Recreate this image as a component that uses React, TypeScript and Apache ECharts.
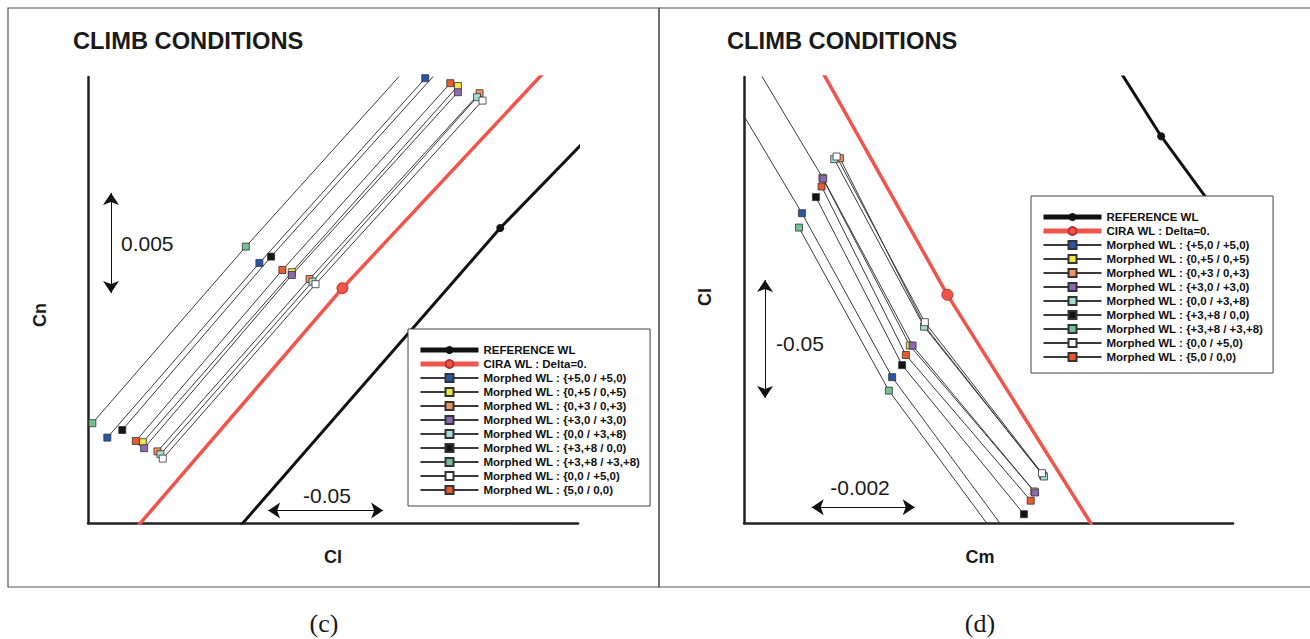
import React, { useEffect, useRef } from "react";
import * as echarts from "echarts";

// ---------- names (legend order) ----------
const SERIES_NAMES = [
  "REFERENCE WL",
  "CIRA WL : Delta=0.",
  "Morphed WL : {+5,0 / +5,0)",
  "Morphed WL : {0,+5 / 0,+5)",
  "Morphed WL : {0,+3 / 0,+3)",
  "Morphed WL : {+3,0 / +3,0)",
  "Morphed WL : {0,0 / +3,+8)",
  "Morphed WL : {+3,+8 / 0,0)",
  "Morphed WL : {+3,+8 / +3,+8)",
  "Morphed WL : {0,0 / +5,0)",
  "Morphed WL : {5,0 / 0,0)",
];

// ---------- panel (c): x = Cl, y = Cn ----------
const C_X_RANGE = [0, 0.213];
const C_Y_RANGE = [0, 0.0223];
const refC = [[0.0609, -0.00085], [0.1792, 0.01475], [0.2227, 0.0199]];
const ciraC = [[0.0161, -0.0009], [0.1106, 0.01174], [0.2032, 0.02315]];
const blueC = [[0.0084, 0.00427], [0.0745, 0.013], [0.1466, 0.02224]];
const yellowC = [[0.0238, 0.00404], [0.0886, 0.01254], [0.1608, 0.02185]];
const orangeC = [[0.0302, 0.00358], [0.0963, 0.0122], [0.1702, 0.02149]];
const purpleC = [[0.0244, 0.00374], [0.0886, 0.0124], [0.1608, 0.02154]];
const cyanC = [[0.0315, 0.00344], [0.0976, 0.01207], [0.1691, 0.02129]];
const blackC = [[0.0149, 0.00465], [0.0796, 0.01332], [0.1518, 0.02255]];
const greenC = [[0.0019, 0.00499], [0.0686, 0.01382], [0.1409, 0.02305]];
const whiteC = [[0.0325, 0.00322], [0.0989, 0.01194], [0.1715, 0.02112]];
const redOrangeC = [[0.0208, 0.0041], [0.0845, 0.01265], [0.1575, 0.02199]];
// scale bars (c)
const C_SCALE_CN = [[0.01, 0.0115], [0.01, 0.0165]]; // 0.005 in Cn
const C_SCALE_CL = [[0.0783, 0.00062], [0.1283, 0.00062]]; // 0.05 in Cl

// ---------- panel (d): x = Cm, y = Cl ----------
const D_X_RANGE = [0, 0.009496];
const D_Y_RANGE = [0, 0.189];
const refD = [[0.0071, 0.1984], [0.0081, 0.1639], [0.00943, 0.1242]];
const ciraD = [[0.00138, 0.1967], [0.00395, 0.0967], [0.00695, -0.0076]];
const blueD = [[-0.000175, 0.1789], [0.001125, 0.1313], [0.002877, 0.0618], [0.005354, -0.01145]];
const yellowD = [[0.001523, 0.1463], [0.00322, 0.0752], [0.005636, 0.01336]];
const orangeD = [[0.001862, 0.1546], [0.003508, 0.0835], [0.00581, 0.0201]];
const purpleD = [[0.000213, 0.1942], [0.001538, 0.1459], [0.003273, 0.0752], [0.005653, 0.01293]];
const cyanD = [[0.001752, 0.1542], [0.003498, 0.0832], [0.005824, 0.0197]];
const blackD = [[0.001397, 0.1381], [0.003071, 0.0669], [0.005436, 0.00373]];
const greenD = [[0.001067, 0.1252], [0.002813, 0.0561], [0.005199, -0.01442]];
const whiteD = [[0.001798, 0.1553], [0.003511, 0.0851], [0.005787, 0.0211]];
const redOrangeD = [[0.001507, 0.1426], [0.003143, 0.0712], [0.005568, 0.00946]];
// scale bars (d)
const D_SCALE_CL = [[0.000408, 0.053], [0.000408, 0.103]]; // 0.05 in Cl
const D_SCALE_CM = [[0.001315, 0.00665], [0.003315, 0.00665]]; // 0.002 in Cm

const MORPHED_C = [blueC, yellowC, orangeC, purpleC, cyanC, blackC, greenC, whiteC, redOrangeC];
const MORPHED_D = [blueD, yellowD, orangeD, purpleD, cyanD, blackD, greenD, whiteD, redOrangeD];
const MARKER_INDEX = 1; // only the middle point of the REFERENCE / CIRA curves carries a marker

// ---------- styles ----------
const FILLS = ["#2a56a8", "#f3e64c", "#f39060", "#8f68b4", "#a4dcd8", "#141414", "#74c291", "#ffffff", "#ea5a2e"];
const RED = "#f0554c";
const SANS = '"Liberation Sans", Arial, Helvetica, sans-serif';
const SERIF = '"Liberation Serif", "Times New Roman", serif';

function axisPair(g: number, xr: number[], yr: number[]) {
  const common = {
    gridIndex: g,
    type: "value",
    axisTick: { show: false },
    axisLabel: { show: false },
    splitLine: { show: false },
    axisLine: { show: true, onZero: false, lineStyle: { color: "#222", width: 2.5 } },
  };
  return {
    x: { ...common, min: xr[0], max: xr[1] },
    y: { ...common, min: yr[0], max: yr[1] },
  };
}

function buildSeries(g: number, refData: number[][], ciraData: number[][], morphed: number[][][], scaleA: number[][], scaleB: number[][]) {
  const markOnly = (pts: number[][]) =>
    pts.map((p, i) => (i === MARKER_INDEX ? p : { value: p, symbol: "none" }));
  const list: any[] = [];
  list.push({
    type: "line",
    name: SERIES_NAMES[0],
    xAxisIndex: g,
    yAxisIndex: g,
    data: markOnly(refData),
    symbol: "circle",
    symbolSize: 8,
    lineStyle: { color: "#111", width: 3 },
    itemStyle: { color: "#111" },
    z: 3,
    markLine: {
      silent: true,
      symbol: ["arrow", "arrow"],
      symbolSize: 12,
      lineStyle: { color: "#111", width: 1, type: "solid" },
      label: { show: false },
      emphasis: { disabled: true },
      data: [
        [{ coord: scaleA[0] }, { coord: scaleA[1] }],
        [{ coord: scaleB[0] }, { coord: scaleB[1] }],
      ],
    },
  });
  list.push({
    type: "line",
    name: SERIES_NAMES[1],
    xAxisIndex: g,
    yAxisIndex: g,
    data: markOnly(ciraData),
    symbol: "circle",
    symbolSize: 11,
    lineStyle: { color: RED, width: 3.5 },
    itemStyle: { color: RED, borderColor: "#b8322c", borderWidth: 1 },
    z: 3,
  });
  morphed.forEach((pts, i) => {
    list.push({
      type: "line",
      name: SERIES_NAMES[i + 2],
      xAxisIndex: g,
      yAxisIndex: g,
      data: pts,
      symbol: "rect",
      symbolSize: 7,
      lineStyle: { color: "#3a3a3a", width: 1 },
      itemStyle: { color: FILLS[i], borderColor: "#333", borderWidth: 0.8 },
      z: 4,
    });
  });
  return list;
}

export default function App() {
  const ref = useRef<HTMLDivElement>(null);
  useEffect(() => {
    const chart = echarts.init(ref.current!, null, { renderer: "svg" });
    const ac = axisPair(0, C_X_RANGE, C_Y_RANGE);
    const ad = axisPair(1, D_X_RANGE, D_Y_RANGE);

    const legendData = SERIES_NAMES.map((n, i) =>
      i < 2 ? { name: n, lineStyle: { width: 5 } } : { name: n }
    );
    const legendCommon = {
      orient: "vertical",
      itemWidth: 58,
      itemHeight: 10,
      itemGap: 2,
      padding: [15, 10, 10, 10],
      borderColor: "#444",
      borderWidth: 1,
      backgroundColor: "#fff",
      selectedMode: false,
      textStyle: { fontFamily: SANS, fontWeight: "bold", fontSize: 11.5, lineHeight: 12, color: "#111" },
      data: legendData,
    };

    const txt = (x: number, y: number, text: string, font: string, align = "left", rotation = 0) => ({
      type: "text",
      x,
      y,
      rotation,
      silent: true,
      style: {
        text,
        font,
        fill: "#1a1a1a",
        textAlign: align,
        textVerticalAlign: "middle",
        align,
        verticalAlign: "middle",
      },
    });

    const option: any = {
      animation: false,
      backgroundColor: "#fff",
      grid: [
        { left: 88, top: 77, width: 490, height: 446 },
        { left: 744, top: 77, width: 489, height: 446 },
      ],
      xAxis: [ac.x, ad.x],
      yAxis: [ac.y, ad.y],
      legend: [
        { ...legendCommon, left: 408, top: 329 },
        { ...legendCommon, left: 1031, top: 196 },
      ],
      series: [
        ...buildSeries(0, refC, ciraC, MORPHED_C, C_SCALE_CN, C_SCALE_CL),
        ...buildSeries(1, refD, ciraD, MORPHED_D, D_SCALE_CL, D_SCALE_CM),
      ],
      graphic: [
        { type: "rect", silent: true, shape: { x: 8, y: 8, width: 651, height: 579 }, style: { fill: "none", stroke: "#555", lineWidth: 1.2 } },
        { type: "rect", silent: true, shape: { x: 659, y: 8, width: 660, height: 579 }, style: { fill: "none", stroke: "#555", lineWidth: 1.2 } },
        txt(73, 41, "CLIMB CONDITIONS", `bold 23.7px ${SANS}`),
        txt(727, 41, "CLIMB CONDITIONS", `bold 23.7px ${SANS}`),
        txt(40, 315, "Cn", `bold 18px ${SANS}`, "center", Math.PI / 2),
        txt(333, 557, "Cl", `bold 18px ${SANS}`, "center"),
        txt(705, 297, "Cl", `bold 18px ${SANS}`, "center", Math.PI / 2),
        txt(980, 557, "Cm", `bold 18px ${SANS}`, "center"),
        txt(121, 243, "0.005", `21px ${SANS}`),
        txt(327, 495, "-0.05", `21px ${SANS}`, "center"),
        txt(776, 343, "-0.05", `21px ${SANS}`),
        txt(860, 487, "-0.002", `21px ${SANS}`, "center"),
        txt(324, 623, "(c)", `26px ${SERIF}`, "center"),
        txt(980, 623, "(d)", `26px ${SERIF}`, "center"),
      ],
    };
    chart.setOption(option);
    return () => chart.dispose();
  }, []);
  return (
    <div
      ref={ref}
      style={{ position: "fixed", left: 0, top: 0, width: 1310, height: 639, background: "#fff" }}
    />
  );
}
